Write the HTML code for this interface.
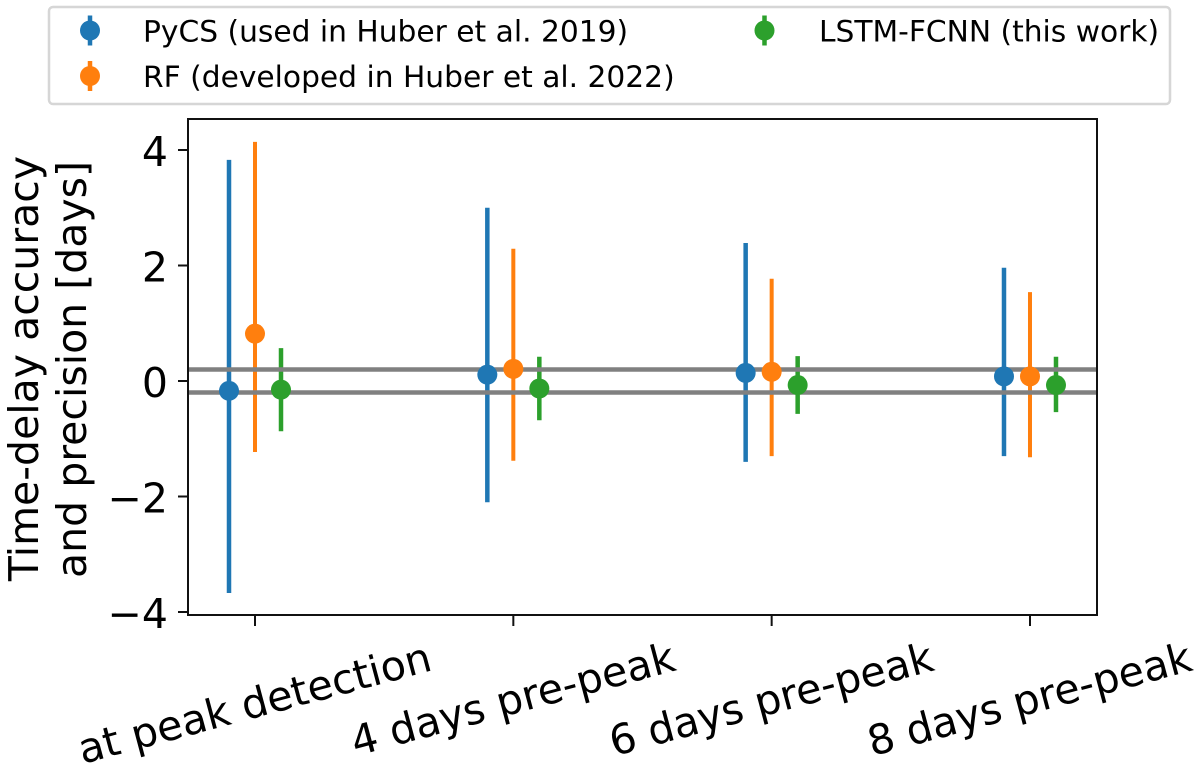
<!DOCTYPE html>
<html>
<head>
<meta charset="utf-8">
<style>
html,body{margin:0;padding:0;background:#fff;width:1200px;height:768px;overflow:hidden}
svg{display:block;font-family:"DejaVu Sans","Liberation Sans",sans-serif}
</style>
</head>
<body>
<svg id="chart" width="1200" height="768" viewBox="0 0 1200 768" xmlns="http://www.w3.org/2000/svg"></svg>
<script>
const categories = ["at peak detection", "4 days pre-peak", "6 days pre-peak", "8 days pre-peak"];
const seriesNames = ["PyCS (used in Huber et al. 2019)", "RF (developed in Huber et al. 2022)", "LSTM-FCNN (this work)"];
const pycsCenter = [-0.17, 0.11, 0.14, 0.08];
const pycsUpper = [3.83, 3.0, 2.39, 1.96];
const pycsLower = [-3.67, -2.1, -1.4, -1.3];
const rfCenter = [0.82, 0.21, 0.16, 0.08];
const rfUpper = [4.14, 2.29, 1.77, 1.54];
const rfLower = [-1.23, -1.38, -1.3, -1.32];
const lstmCenter = [-0.15, -0.13, -0.07, -0.07];
const lstmUpper = [0.57, 0.42, 0.43, 0.42];
const lstmLower = [-0.87, -0.68, -0.57, -0.54];
const yTicks = [4, 2, 0, -2, -4];
const referenceLines = [0.2, -0.2];

const svg = document.getElementById('chart');
const NS = 'http://www.w3.org/2000/svg';
function make(tag, attrs, text) {
  const el = document.createElementNS(NS, tag);
  for (const k in attrs) el.setAttribute(k, attrs[k]);
  if (text !== undefined) el.textContent = text;
  svg.appendChild(el);
  return el;
}
const plotLeft = 188, plotRight = 1097, plotTop = 119, plotBottom = 615;
function xAxis(i) { return 255 + i * 258.33; }
function yAxis(v) { return 381 - v * 57.75; }
const colors = ['#1f77b4', '#ff7f0e', '#2ca02c'];
const offsets = [-26, 0, 26];
const widths = [4.5, 4, 4.5];
const series = [
  { key: 'pycs', center: pycsCenter, upper: pycsUpper, lower: pycsLower },
  { key: 'rf', center: rfCenter, upper: rfUpper, lower: rfLower },
  { key: 'lstm', center: lstmCenter, upper: lstmUpper, lower: lstmLower }
];

// error bars
series.forEach(function (s, si) {
  categories.forEach(function (c, i) {
    const x = xAxis(i) + offsets[si];
    const bar = make('line', { x1: x, x2: x, y1: yAxis(s.upper[i]), y2: yAxis(s.lower[i]), stroke: colors[si], 'stroke-width': widths[si] });
    
    
  });
});

// reference lines
referenceLines.forEach(function (v) {
  const l = make('line', { x1: plotLeft, x2: plotRight, y1: yAxis(v), y2: yAxis(v), stroke: '#808080', 'stroke-width': 4.5 });
  
  
});

// markers
series.forEach(function (s, si) {
  categories.forEach(function (c, i) {
    const m = make('circle', { cx: xAxis(i) + offsets[si], cy: yAxis(s.center[i]), r: 10, fill: colors[si] });
    
    
  });
});

// axes frame
const frame = make('rect', { x: plotLeft, y: plotTop, width: plotRight - plotLeft, height: plotBottom - plotTop, fill: 'none', stroke: '#111', 'stroke-width': 2 });



// y ticks
yTicks.forEach(function (v) {
  const t = make('line', { x1: plotLeft - 10, x2: plotLeft, y1: yAxis(v), y2: yAxis(v), stroke: '#111', 'stroke-width': 2 });
  
  
  const lab = make('text', { x: plotLeft - 20, y: yAxis(v) + 16, 'text-anchor': 'end', 'font-size': 41, fill: '#000' }, v < 0 ? '\u2212' + Math.abs(v) : String(v));
  
  
});

// x ticks
const xFont = 41.3;
const xAngle = 15;
categories.forEach(function (c, i) {
  const x = xAxis(i);
  const t = make('line', { x1: x, x2: x, y1: plotBottom, y2: plotBottom + 11, stroke: '#111', 'stroke-width': 2 });
  
  
  const lab = make('text', { x: 0, y: xFont * 0.3, 'text-anchor': 'middle', 'font-size': xFont, fill: '#000' }, c);
  
  
  const rad = xAngle * Math.PI / 180;
  const extent = lab.getComputedTextLength() * Math.sin(rad) + 1.1 * xFont * Math.cos(rad);
  lab.setAttribute('transform', 'translate(' + x + ' ' + (636 + extent / 2) + ') rotate(-' + xAngle + ')');
});

// y axis title
const t1 = make('text', { x: 0, y: 0, 'text-anchor': 'middle', 'font-size': 41, fill: '#000', transform: 'translate(38 368.5) rotate(-90)' }, 'Time-delay accuracy');


const t2 = make('text', { x: 0, y: 0, 'text-anchor': 'middle', 'font-size': 41, fill: '#000', transform: 'translate(86 369.5) rotate(-90)' }, 'and precision [days]');



// legend
const box = make('rect', { x: 49, y: 7, width: 1121, height: 97, rx: 4, fill: '#fff', stroke: '#d6d6d6', 'stroke-width': 2.5 });


const legendX = [90, 90, 764.5];
const legendY = [30.5, 76, 30.5];
const legendTextX = [143, 143, 819];
seriesNames.forEach(function (name, i) {
  const bar = make('line', { x1: legendX[i], x2: legendX[i], y1: legendY[i] - 15, y2: legendY[i] + 15, stroke: colors[i], 'stroke-width': 4.5 });
  
  
  const dot = make('circle', { cx: legendX[i], cy: legendY[i], r: 10, fill: colors[i] });
  
  
  const txt = make('text', { x: legendTextX[i], y: legendY[i] + 11, 'font-size': 29.7, fill: '#000' }, name);
  
  
});
</script>
</body>
</html>
